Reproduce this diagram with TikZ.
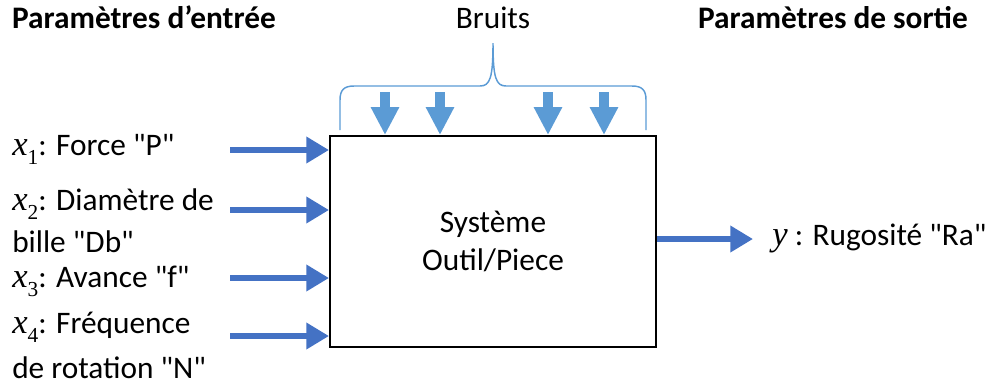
\documentclass[tikz,border=0pt]{standalone}
\usepackage{fontspec}
\setmainfont{Carlito}[Ligatures=TeXOff]
\newfontfamily\varfont{Liberation Serif}[Ligatures=TeXOff]
\usetikzlibrary{arrows.meta}
\definecolor{inblue}{HTML}{4472C4}
\definecolor{noiseblue}{HTML}{5B9BD5}
% italic variable with an optional subscript
\newcommand\var[2]{{\fontsize{26pt}{30pt}\varfont\itshape #1}\raisebox{-0.3em}{\fontsize{16pt}{16pt}\varfont #2}}
\newcommand\bigfont{\fontsize{23.5pt}{30pt}\selectfont}
\tikzset{
  lbl/.style={anchor=base west, inner sep=0pt, font=\bigfont},
  hdr/.style={anchor=base, inner sep=0pt, font=\bigfont},
  inarrow/.style={draw=inblue, line width=4.9pt, -{Triangle[length=17pt,width=19pt]}},
  noisearrow/.style={draw=noiseblue, line width=7.5pt, -{Triangle[length=21pt,width=20pt]}},
  bracket/.style={draw=noiseblue, line width=1.1pt},
  sysbox/.style={draw=black, line width=1.5pt, minimum width=244.5pt, minimum height=158.25pt,
    align=center, inner sep=0pt, font=\fontsize{23.5pt}{29pt}\selectfont}
}
\begin{document}
\begin{tikzpicture}[x=0.75pt, y=-0.75pt]
\useasboundingbox (0,0) rectangle (994,390);

% headings
\node[hdr, font=\bigfont\bfseries] (hin) at (144,28) {Paramètres d’entrée};
\node[hdr] (hnoise) at (493,28) {Bruits};
\node[hdr, font=\bigfont\bfseries] (hout) at (833,28) {Paramètres de sortie};

% the system block
\node[sysbox] (sys) at (493,241.5) {Système\\Outil/Piece};

% input labels
\node[lbl] (l1)  at (12,155) {\var{x}{1}: Force "P"};
\node[lbl] (l2a) at (12,210) {\var{x}{2}: Diamètre de};
\node[lbl] (l2b) at (12,252) {bille "Db"};
\node[lbl] (l3)  at (12,287) {\var{x}{3}: Avance "f"};
\node[lbl] (l4a) at (12,333) {\var{x}{4}: Fréquence};
\node[lbl] (l4b) at (12,378) {de rotation "N"};

% input arrows
\coordinate (i1) at (230,150);
\coordinate (i2) at (230,210);
\coordinate (i3) at (230,278);
\coordinate (i4) at (230,336);
\foreach \c in {i1,i2,i3,i4}
  \draw[inarrow] (\c) -- (\c -| sys.west);

% output arrow and label
\coordinate (o1) at (753,239);
\draw[inarrow] (sys.east |- o1) -- (o1);
\node[lbl] (lout) at (772,245) {{\fontsize{26pt}{30pt}\varfont\itshape y} : Rugosité "Ra"};

% noise arrows
\coordinate (n1) at (385,92);
\coordinate (n2) at (440,92);
\coordinate (n3) at (548,92);
\coordinate (n4) at (604,92);
\foreach \c in {n1,n2,n3,n4}
  \draw[noisearrow] (\c) -- (\c |- sys.north);

% brace gathering the noises
\coordinate (btip) at (493,43);
\draw[bracket] (340,130) -- (340,100)
  .. controls (340,90) and (344,86) .. (354,86) -- (480,86)
  .. controls (490,86) and (493,78) .. (btip)
  .. controls (493,78) and (496,86) .. (506,86) -- (632,86)
  .. controls (642,86) and (646,90) .. (646,100) -- (646,130);
\end{tikzpicture}
\end{document}
